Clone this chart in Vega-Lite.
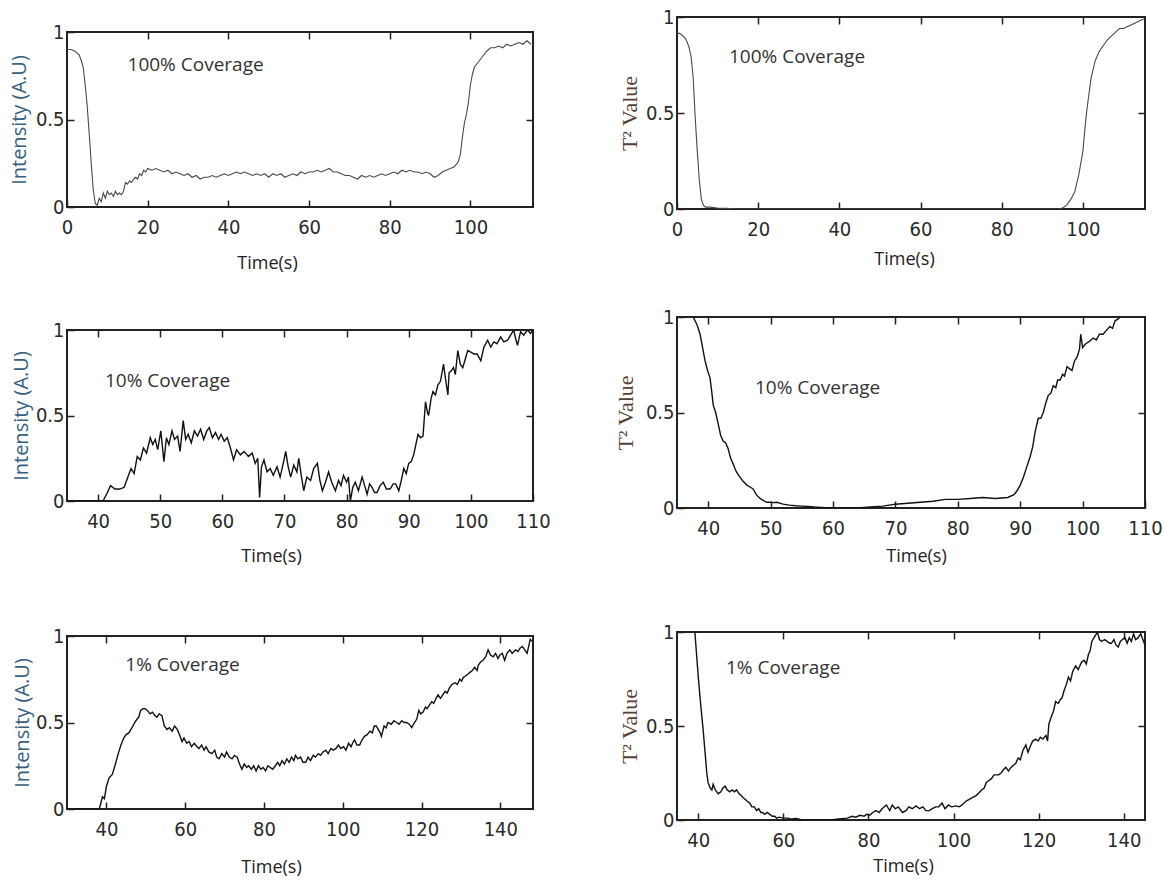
{
"$schema": "https://vega.github.io/schema/vega-lite/v6.json",
"padding": {"left": 8, "top": 6, "right": 0, "bottom": 5},
"background": "white",
"config": {
  "view": {"stroke": "#222", "strokeWidth": 2},
  "axis": {"domain": false, "grid": false, "ticks": true, "tickSize": -7, "tickColor": "#222", "tickWidth": 1.5, "labelFlush": false,
    "labelFont": "Liberation Sans Narrow, DejaVu Sans Condensed, sans-serif", "labelFontSize": 20, "labelColor": "#2a2a2a",
    "titleFont": "Open Sans", "titleFontSize": 18, "titleFontWeight": "normal", "titleColor": "#222", "titleBaseline": "middle"},
  "axisX": {"labelPadding": 17},
  "axisY": {"labelPadding": 10}
},
"datasets": {
 "p1": [{"t":0,"v":0.9},{"t":1,"v":0.9},{"t":2,"v":0.89},{"t":3,"v":0.87},{"t":3.5,"v":0.84},{"t":4,"v":0.8},{"t":4.5,"v":0.7},{"t":5,"v":0.58},{"t":5.5,"v":0.42},{"t":6,"v":0.25},{"t":6.5,"v":0.1},{"t":7,"v":0.02},{"t":7.5,"v":0.01},{"t":8,"v":0.05},{"t":8.5,"v":0.03},{"t":9,"v":0.08},{"t":9.5,"v":0.05},{"t":10,"v":0.09},{"t":10.5,"v":0.07},{"t":11,"v":0.08},{"t":11.5,"v":0.06},{"t":12,"v":0.09},{"t":12.5,"v":0.07},{"t":13,"v":0.08},{"t":13.5,"v":0.07},{"t":14,"v":0.09},{"t":14.5,"v":0.14},{"t":15,"v":0.13},{"t":15.5,"v":0.15},{"t":16,"v":0.14},{"t":16.5,"v":0.16},{"t":17,"v":0.17},{"t":17.5,"v":0.16},{"t":18,"v":0.19},{"t":18.5,"v":0.18},{"t":19,"v":0.21},{"t":19.5,"v":0.2},{"t":20,"v":0.22},{"t":21,"v":0.21},{"t":22,"v":0.22},{"t":23,"v":0.21},{"t":24,"v":0.2},{"t":25,"v":0.21},{"t":26,"v":0.19},{"t":27,"v":0.2},{"t":28,"v":0.19},{"t":29,"v":0.18},{"t":30,"v":0.19},{"t":31,"v":0.17},{"t":32,"v":0.18},{"t":33,"v":0.16},{"t":34,"v":0.17},{"t":35,"v":0.17},{"t":36,"v":0.18},{"t":37,"v":0.17},{"t":38,"v":0.18},{"t":39,"v":0.19},{"t":40,"v":0.18},{"t":41,"v":0.19},{"t":42,"v":0.2},{"t":43,"v":0.19},{"t":44,"v":0.2},{"t":45,"v":0.19},{"t":46,"v":0.18},{"t":47,"v":0.19},{"t":48,"v":0.18},{"t":49,"v":0.19},{"t":50,"v":0.17},{"t":51,"v":0.19},{"t":52,"v":0.18},{"t":53,"v":0.19},{"t":54,"v":0.17},{"t":55,"v":0.18},{"t":56,"v":0.19},{"t":57,"v":0.18},{"t":58,"v":0.2},{"t":59,"v":0.19},{"t":60,"v":0.2},{"t":61,"v":0.2},{"t":62,"v":0.21},{"t":63,"v":0.2},{"t":64,"v":0.21},{"t":65,"v":0.22},{"t":66,"v":0.2},{"t":67,"v":0.2},{"t":68,"v":0.19},{"t":69,"v":0.18},{"t":70,"v":0.18},{"t":71,"v":0.17},{"t":72,"v":0.16},{"t":73,"v":0.18},{"t":74,"v":0.17},{"t":75,"v":0.18},{"t":76,"v":0.17},{"t":77,"v":0.18},{"t":78,"v":0.19},{"t":79,"v":0.18},{"t":80,"v":0.19},{"t":81,"v":0.2},{"t":82,"v":0.19},{"t":83,"v":0.21},{"t":84,"v":0.2},{"t":85,"v":0.21},{"t":86,"v":0.2},{"t":87,"v":0.2},{"t":88,"v":0.19},{"t":89,"v":0.2},{"t":90,"v":0.19},{"t":91,"v":0.17},{"t":92,"v":0.18},{"t":93,"v":0.2},{"t":94,"v":0.21},{"t":95,"v":0.22},{"t":96,"v":0.23},{"t":97,"v":0.26},{"t":97.5,"v":0.3},{"t":98,"v":0.4},{"t":98.5,"v":0.48},{"t":99,"v":0.53},{"t":99.5,"v":0.6},{"t":100,"v":0.7},{"t":100.5,"v":0.76},{"t":101,"v":0.8},{"t":102,"v":0.83},{"t":103,"v":0.86},{"t":104,"v":0.89},{"t":105,"v":0.91},{"t":106,"v":0.91},{"t":107,"v":0.92},{"t":108,"v":0.91},{"t":109,"v":0.93},{"t":110,"v":0.92},{"t":111,"v":0.93},{"t":112,"v":0.94},{"t":113,"v":0.93},{"t":114,"v":0.95},{"t":115,"v":0.93}],
 "p2": [{"t":0,"v":0.92},{"t":1,"v":0.91},{"t":2,"v":0.89},{"t":2.5,"v":0.87},{"t":3,"v":0.84},{"t":3.5,"v":0.79},{"t":4,"v":0.68},{"t":4.5,"v":0.47},{"t":5,"v":0.3},{"t":5.5,"v":0.15},{"t":6,"v":0.05},{"t":6.5,"v":0.02},{"t":7,"v":0.01},{"t":8,"v":0.01},{"t":10,"v":0.005},{"t":12,"v":0.003},{"t":15,"v":0},{"t":20,"v":0},{"t":30,"v":0},{"t":40,"v":0},{"t":50,"v":0},{"t":60,"v":0},{"t":70,"v":0},{"t":80,"v":0},{"t":90,"v":0},{"t":94,"v":0},{"t":95,"v":0.005},{"t":96,"v":0.02},{"t":97,"v":0.05},{"t":98,"v":0.09},{"t":99,"v":0.18},{"t":100,"v":0.3},{"t":100.5,"v":0.42},{"t":101,"v":0.52},{"t":101.5,"v":0.6},{"t":102,"v":0.68},{"t":103,"v":0.77},{"t":104,"v":0.82},{"t":105,"v":0.85},{"t":106,"v":0.88},{"t":107,"v":0.9},{"t":108,"v":0.92},{"t":109,"v":0.94},{"t":110,"v":0.94},{"t":111,"v":0.95},{"t":112,"v":0.96},{"t":113,"v":0.97},{"t":114,"v":0.98},{"t":115,"v":0.99}],
 "p3": [{"t":35,"v":0},{"t":40.8,"v":0},{"t":41.5,"v":0.05},{"t":42,"v":0.09},{"t":42.7,"v":0.07},{"t":43.5,"v":0.07},{"t":44.2,"v":0.08},{"t":44.8,"v":0.14},{"t":45.3,"v":0.19},{"t":45.8,"v":0.16},{"t":46.3,"v":0.26},{"t":46.8,"v":0.24},{"t":47.3,"v":0.31},{"t":47.8,"v":0.28},{"t":48.4,"v":0.37},{"t":48.8,"v":0.33},{"t":49.2,"v":0.36},{"t":49.6,"v":0.3},{"t":50.1,"v":0.41},{"t":50.6,"v":0.23},{"t":51,"v":0.37},{"t":51.4,"v":0.33},{"t":51.9,"v":0.41},{"t":52.3,"v":0.36},{"t":52.8,"v":0.38},{"t":53.2,"v":0.29},{"t":53.7,"v":0.47},{"t":54.1,"v":0.36},{"t":54.5,"v":0.39},{"t":55,"v":0.34},{"t":55.5,"v":0.41},{"t":56,"v":0.38},{"t":56.5,"v":0.42},{"t":57,"v":0.36},{"t":57.5,"v":0.41},{"t":57.9,"v":0.43},{"t":58.4,"v":0.37},{"t":58.9,"v":0.4},{"t":59.4,"v":0.36},{"t":59.8,"v":0.39},{"t":60.3,"v":0.35},{"t":60.8,"v":0.37},{"t":61.3,"v":0.31},{"t":61.8,"v":0.24},{"t":62.3,"v":0.3},{"t":62.9,"v":0.27},{"t":63.5,"v":0.29},{"t":64.2,"v":0.26},{"t":64.8,"v":0.28},{"t":65.3,"v":0.22},{"t":65.7,"v":0.25},{"t":66,"v":0.02},{"t":66.3,"v":0.2},{"t":66.7,"v":0.24},{"t":67.2,"v":0.17},{"t":67.7,"v":0.19},{"t":68.2,"v":0.15},{"t":68.8,"v":0.2},{"t":69.3,"v":0.14},{"t":69.8,"v":0.22},{"t":70.2,"v":0.29},{"t":70.6,"v":0.2},{"t":71,"v":0.14},{"t":71.5,"v":0.21},{"t":72,"v":0.17},{"t":72.3,"v":0.25},{"t":72.7,"v":0.15},{"t":73.1,"v":0.06},{"t":73.6,"v":0.14},{"t":74.2,"v":0.12},{"t":74.7,"v":0.19},{"t":75.3,"v":0.22},{"t":75.7,"v":0.12},{"t":76.1,"v":0.06},{"t":76.6,"v":0.11},{"t":77.1,"v":0.17},{"t":77.6,"v":0.11},{"t":78.2,"v":0.06},{"t":78.7,"v":0.12},{"t":79.1,"v":0.09},{"t":79.5,"v":0.15},{"t":80,"v":0.11},{"t":80.3,"v":0.14},{"t":80.6,"v":0},{"t":81,"v":0.08},{"t":81.4,"v":0.11},{"t":81.9,"v":0.06},{"t":82.5,"v":0.14},{"t":82.9,"v":0.09},{"t":83.3,"v":0.04},{"t":83.7,"v":0.1},{"t":84.1,"v":0.08},{"t":84.5,"v":0.05},{"t":84.9,"v":0.05},{"t":85.4,"v":0.09},{"t":85.9,"v":0.11},{"t":86.4,"v":0.07},{"t":87,"v":0.07},{"t":87.5,"v":0.1},{"t":87.9,"v":0.1},{"t":88.4,"v":0.06},{"t":88.8,"v":0.12},{"t":89.2,"v":0.19},{"t":89.6,"v":0.16},{"t":90,"v":0.22},{"t":90.4,"v":0.23},{"t":90.8,"v":0.27},{"t":91.2,"v":0.34},{"t":91.5,"v":0.39},{"t":91.9,"v":0.37},{"t":92.3,"v":0.38},{"t":92.7,"v":0.58},{"t":93,"v":0.52},{"t":93.2,"v":0.5},{"t":93.6,"v":0.6},{"t":93.9,"v":0.64},{"t":94.3,"v":0.62},{"t":94.7,"v":0.68},{"t":95.1,"v":0.7},{"t":95.4,"v":0.76},{"t":95.6,"v":0.8},{"t":95.9,"v":0.72},{"t":96.3,"v":0.62},{"t":96.5,"v":0.75},{"t":96.8,"v":0.76},{"t":97.2,"v":0.78},{"t":97.5,"v":0.74},{"t":97.9,"v":0.88},{"t":98.3,"v":0.8},{"t":98.7,"v":0.78},{"t":99.1,"v":0.83},{"t":99.5,"v":0.88},{"t":100,"v":0.87},{"t":100.5,"v":0.86},{"t":101,"v":0.86},{"t":101.6,"v":0.82},{"t":102.1,"v":0.9},{"t":102.7,"v":0.94},{"t":103.2,"v":0.9},{"t":103.7,"v":0.93},{"t":104.2,"v":0.92},{"t":104.8,"v":0.96},{"t":105.3,"v":0.93},{"t":105.9,"v":0.94},{"t":106.4,"v":0.97},{"t":106.9,"v":1},{"t":107.2,"v":0.95},{"t":107.5,"v":0.91},{"t":108,"v":0.99},{"t":108.5,"v":0.97},{"t":109.1,"v":1},{"t":109.6,"v":0.98},{"t":110,"v":1}],
 "p4": [{"t":37.6,"v":1},{"t":38.2,"v":0.96},{"t":38.7,"v":0.91},{"t":39.1,"v":0.84},{"t":39.5,"v":0.77},{"t":39.9,"v":0.72},{"t":40.3,"v":0.68},{"t":40.6,"v":0.6},{"t":40.8,"v":0.54},{"t":41.2,"v":0.5},{"t":41.6,"v":0.44},{"t":42,"v":0.38},{"t":42.4,"v":0.35},{"t":42.8,"v":0.34},{"t":43.2,"v":0.31},{"t":43.6,"v":0.26},{"t":44,"v":0.23},{"t":44.5,"v":0.19},{"t":45.1,"v":0.16},{"t":45.6,"v":0.14},{"t":46.2,"v":0.12},{"t":46.7,"v":0.11},{"t":47.2,"v":0.1},{"t":47.7,"v":0.07},{"t":48.3,"v":0.05},{"t":48.8,"v":0.04},{"t":49.4,"v":0.03},{"t":50,"v":0.03},{"t":50.4,"v":0.028},{"t":51,"v":0.03},{"t":52,"v":0.02},{"t":53,"v":0.015},{"t":54,"v":0.012},{"t":55,"v":0.01},{"t":56,"v":0.008},{"t":57,"v":0.005},{"t":58,"v":0.003},{"t":60,"v":0},{"t":62,"v":0},{"t":64,"v":0},{"t":66,"v":0.005},{"t":68,"v":0.01},{"t":70,"v":0.02},{"t":72,"v":0.025},{"t":74,"v":0.03},{"t":76,"v":0.035},{"t":78,"v":0.045},{"t":80,"v":0.045},{"t":82,"v":0.05},{"t":84,"v":0.055},{"t":86,"v":0.05},{"t":88,"v":0.055},{"t":89,"v":0.07},{"t":89.5,"v":0.09},{"t":90,"v":0.12},{"t":90.5,"v":0.16},{"t":91,"v":0.21},{"t":91.6,"v":0.27},{"t":92,"v":0.32},{"t":92.4,"v":0.4},{"t":92.9,"v":0.47},{"t":93.3,"v":0.47},{"t":93.7,"v":0.5},{"t":94.1,"v":0.55},{"t":94.5,"v":0.59},{"t":94.9,"v":0.6},{"t":95.3,"v":0.64},{"t":95.7,"v":0.63},{"t":96,"v":0.67},{"t":96.4,"v":0.67},{"t":96.8,"v":0.7},{"t":97.1,"v":0.69},{"t":97.5,"v":0.74},{"t":97.9,"v":0.73},{"t":98.3,"v":0.72},{"t":98.7,"v":0.77},{"t":99.1,"v":0.79},{"t":99.5,"v":0.83},{"t":99.7,"v":0.91},{"t":100,"v":0.84},{"t":100.5,"v":0.86},{"t":101,"v":0.87},{"t":101.7,"v":0.89},{"t":102.2,"v":0.88},{"t":102.7,"v":0.91},{"t":103.3,"v":0.91},{"t":103.8,"v":0.93},{"t":104.4,"v":0.95},{"t":104.8,"v":0.94},{"t":105.2,"v":0.98},{"t":105.7,"v":0.99},{"t":106,"v":1}],
 "p5": [{"t":30,"v":0},{"t":38.2,"v":0},{"t":39,"v":0.07},{"t":39.5,"v":0.06},{"t":40,"v":0.13},{"t":40.7,"v":0.18},{"t":41.5,"v":0.2},{"t":42.3,"v":0.26},{"t":43,"v":0.32},{"t":43.7,"v":0.37},{"t":44.4,"v":0.41},{"t":45,"v":0.43},{"t":45.7,"v":0.44},{"t":46.5,"v":0.47},{"t":47.2,"v":0.5},{"t":47.8,"v":0.52},{"t":48.2,"v":0.53},{"t":48.7,"v":0.57},{"t":49.3,"v":0.58},{"t":49.8,"v":0.58},{"t":50.4,"v":0.57},{"t":51.1,"v":0.55},{"t":51.7,"v":0.56},{"t":52.3,"v":0.54},{"t":52.8,"v":0.53},{"t":53.4,"v":0.55},{"t":54.1,"v":0.54},{"t":54.7,"v":0.48},{"t":55.4,"v":0.46},{"t":56,"v":0.47},{"t":56.7,"v":0.45},{"t":57.3,"v":0.48},{"t":58,"v":0.46},{"t":58.7,"v":0.42},{"t":59.2,"v":0.39},{"t":59.7,"v":0.41},{"t":60.4,"v":0.38},{"t":61,"v":0.39},{"t":61.6,"v":0.36},{"t":62.3,"v":0.38},{"t":63,"v":0.36},{"t":63.5,"v":0.35},{"t":64.2,"v":0.37},{"t":64.8,"v":0.34},{"t":65.3,"v":0.36},{"t":66,"v":0.33},{"t":66.8,"v":0.32},{"t":67.5,"v":0.34},{"t":68,"v":0.3},{"t":68.6,"v":0.29},{"t":69.3,"v":0.32},{"t":70,"v":0.3},{"t":70.5,"v":0.33},{"t":71.2,"v":0.3},{"t":71.9,"v":0.29},{"t":72.5,"v":0.31},{"t":73.2,"v":0.3},{"t":73.8,"v":0.26},{"t":74.4,"v":0.23},{"t":75,"v":0.26},{"t":75.6,"v":0.24},{"t":76.1,"v":0.25},{"t":76.8,"v":0.23},{"t":77.4,"v":0.25},{"t":78,"v":0.22},{"t":78.6,"v":0.25},{"t":79.2,"v":0.23},{"t":79.8,"v":0.24},{"t":80.4,"v":0.22},{"t":81,"v":0.25},{"t":81.6,"v":0.24},{"t":82.2,"v":0.23},{"t":82.9,"v":0.25},{"t":83.5,"v":0.27},{"t":84,"v":0.25},{"t":84.6,"v":0.28},{"t":85.2,"v":0.26},{"t":85.8,"v":0.29},{"t":86.4,"v":0.27},{"t":87,"v":0.3},{"t":87.6,"v":0.28},{"t":88,"v":0.31},{"t":88.6,"v":0.29},{"t":89.3,"v":0.3},{"t":89.9,"v":0.27},{"t":90.6,"v":0.27},{"t":91.2,"v":0.3},{"t":91.8,"v":0.28},{"t":92.5,"v":0.31},{"t":93.1,"v":0.3},{"t":93.8,"v":0.32},{"t":94.4,"v":0.31},{"t":95,"v":0.33},{"t":95.7,"v":0.34},{"t":96.3,"v":0.32},{"t":97,"v":0.35},{"t":97.6,"v":0.34},{"t":98.3,"v":0.35},{"t":98.9,"v":0.37},{"t":99.5,"v":0.35},{"t":100.2,"v":0.36},{"t":100.8,"v":0.34},{"t":101.5,"v":0.38},{"t":102.1,"v":0.36},{"t":102.7,"v":0.39},{"t":103,"v":0.4},{"t":103.6,"v":0.37},{"t":104.3,"v":0.37},{"t":104.9,"v":0.4},{"t":105.5,"v":0.42},{"t":106.2,"v":0.43},{"t":106.9,"v":0.45},{"t":107.5,"v":0.44},{"t":108,"v":0.48},{"t":108.5,"v":0.48},{"t":109,"v":0.46},{"t":109.5,"v":0.44},{"t":109.8,"v":0.42},{"t":110.5,"v":0.48},{"t":111,"v":0.47},{"t":111.5,"v":0.5},{"t":112.3,"v":0.49},{"t":113,"v":0.51},{"t":113.7,"v":0.5},{"t":114.3,"v":0.49},{"t":115,"v":0.51},{"t":115.6,"v":0.5},{"t":116.2,"v":0.5},{"t":116.9,"v":0.49},{"t":117.5,"v":0.47},{"t":118.2,"v":0.5},{"t":118.8,"v":0.52},{"t":119.3,"v":0.57},{"t":119.8,"v":0.55},{"t":120.4,"v":0.56},{"t":121,"v":0.59},{"t":121.4,"v":0.58},{"t":122,"v":0.6},{"t":122.6,"v":0.62},{"t":123.1,"v":0.61},{"t":123.7,"v":0.64},{"t":124.2,"v":0.66},{"t":124.8,"v":0.64},{"t":125.4,"v":0.66},{"t":126,"v":0.68},{"t":126.5,"v":0.67},{"t":127.1,"v":0.7},{"t":127.7,"v":0.72},{"t":128.5,"v":0.73},{"t":129.1,"v":0.72},{"t":129.7,"v":0.75},{"t":130.2,"v":0.74},{"t":130.6,"v":0.76},{"t":131.2,"v":0.77},{"t":131.8,"v":0.78},{"t":132.3,"v":0.79},{"t":132.9,"v":0.8},{"t":133.5,"v":0.82},{"t":134.1,"v":0.8},{"t":134.4,"v":0.83},{"t":135,"v":0.85},{"t":135.6,"v":0.86},{"t":136.3,"v":0.88},{"t":136.9,"v":0.92},{"t":137.5,"v":0.89},{"t":138.2,"v":0.88},{"t":138.8,"v":0.9},{"t":139.4,"v":0.87},{"t":139.9,"v":0.89},{"t":140.5,"v":0.9},{"t":141.1,"v":0.86},{"t":141.7,"v":0.9},{"t":142.4,"v":0.92},{"t":143,"v":0.9},{"t":143.9,"v":0.92},{"t":144.5,"v":0.91},{"t":145,"v":0.93},{"t":145.6,"v":0.94},{"t":146.2,"v":0.92},{"t":146.8,"v":0.9},{"t":147.3,"v":0.95},{"t":147.6,"v":0.98},{"t":148,"v":0.97}],
 "p6": [{"t":39.2,"v":1},{"t":39.6,"v":0.88},{"t":40,"v":0.76},{"t":40.5,"v":0.63},{"t":41.1,"v":0.49},{"t":41.6,"v":0.36},{"t":42,"v":0.25},{"t":42.3,"v":0.2},{"t":42.8,"v":0.17},{"t":43.2,"v":0.16},{"t":43.5,"v":0.19},{"t":44,"v":0.16},{"t":44.7,"v":0.14},{"t":45.3,"v":0.15},{"t":45.8,"v":0.17},{"t":46.3,"v":0.18},{"t":46.8,"v":0.16},{"t":47.4,"v":0.15},{"t":48,"v":0.16},{"t":48.5,"v":0.15},{"t":49,"v":0.16},{"t":49.6,"v":0.14},{"t":50.1,"v":0.13},{"t":50.5,"v":0.12},{"t":51,"v":0.11},{"t":51.5,"v":0.1},{"t":52.1,"v":0.09},{"t":52.6,"v":0.07},{"t":53.2,"v":0.07},{"t":53.7,"v":0.05},{"t":54.2,"v":0.06},{"t":54.7,"v":0.04},{"t":55.1,"v":0.04},{"t":55.6,"v":0.03},{"t":56.2,"v":0.04},{"t":56.8,"v":0.03},{"t":57.4,"v":0.02},{"t":58,"v":0.02},{"t":58.4,"v":0.01},{"t":59,"v":0.015},{"t":60,"v":0.01},{"t":61,"v":0.01},{"t":62,"v":0.005},{"t":63,"v":0.008},{"t":64,"v":0.003},{"t":65,"v":0},{"t":67,"v":0},{"t":69,"v":0},{"t":71,"v":0},{"t":73,"v":0.005},{"t":75,"v":0.01},{"t":76.2,"v":0.02},{"t":77,"v":0.015},{"t":78,"v":0.025},{"t":79,"v":0.02},{"t":79.5,"v":0.03},{"t":80.3,"v":0.025},{"t":81,"v":0.04},{"t":81.8,"v":0.05},{"t":82.5,"v":0.04},{"t":83.2,"v":0.06},{"t":84.2,"v":0.08},{"t":85,"v":0.05},{"t":85.6,"v":0.08},{"t":86.3,"v":0.06},{"t":87,"v":0.07},{"t":88,"v":0.04},{"t":88.8,"v":0.05},{"t":89.5,"v":0.07},{"t":90.3,"v":0.06},{"t":91.2,"v":0.075},{"t":92,"v":0.06},{"t":92.8,"v":0.07},{"t":93.5,"v":0.05},{"t":94.3,"v":0.05},{"t":95,"v":0.06},{"t":95.8,"v":0.07},{"t":96.5,"v":0.07},{"t":97.3,"v":0.09},{"t":98,"v":0.06},{"t":98.8,"v":0.08},{"t":99.5,"v":0.07},{"t":100.6,"v":0.075},{"t":101.3,"v":0.07},{"t":102,"v":0.08},{"t":102.9,"v":0.1},{"t":103.7,"v":0.11},{"t":104.5,"v":0.12},{"t":105.3,"v":0.13},{"t":106,"v":0.145},{"t":106.6,"v":0.16},{"t":107.2,"v":0.17},{"t":107.7,"v":0.2},{"t":108.3,"v":0.21},{"t":108.9,"v":0.22},{"t":109.5,"v":0.24},{"t":110,"v":0.24},{"t":110.6,"v":0.24},{"t":111.2,"v":0.25},{"t":111.8,"v":0.27},{"t":112.3,"v":0.28},{"t":112.9,"v":0.26},{"t":113.5,"v":0.28},{"t":114,"v":0.29},{"t":114.6,"v":0.3},{"t":115.2,"v":0.33},{"t":115.7,"v":0.32},{"t":116.3,"v":0.37},{"t":117,"v":0.4},{"t":117.5,"v":0.36},{"t":118,"v":0.39},{"t":118.6,"v":0.42},{"t":119.3,"v":0.43},{"t":119.9,"v":0.42},{"t":120.4,"v":0.44},{"t":121,"v":0.43},{"t":121.7,"v":0.45},{"t":122.1,"v":0.42},{"t":122.4,"v":0.51},{"t":123,"v":0.55},{"t":123.5,"v":0.58},{"t":124,"v":0.63},{"t":124.6,"v":0.62},{"t":125.1,"v":0.64},{"t":125.5,"v":0.65},{"t":126,"v":0.69},{"t":126.5,"v":0.72},{"t":127,"v":0.76},{"t":127.5,"v":0.74},{"t":128,"v":0.79},{"t":128.7,"v":0.82},{"t":129.3,"v":0.8},{"t":130.1,"v":0.84},{"t":130.7,"v":0.85},{"t":131.2,"v":0.83},{"t":131.7,"v":0.88},{"t":132.1,"v":0.9},{"t":132.5,"v":0.95},{"t":133,"v":0.97},{"t":133.3,"v":0.98},{"t":133.8,"v":1},{"t":134.3,"v":0.96},{"t":134.8,"v":0.95},{"t":135.5,"v":0.96},{"t":136.1,"v":0.95},{"t":136.7,"v":0.94},{"t":137.1,"v":0.94},{"t":137.7,"v":0.96},{"t":138.2,"v":0.93},{"t":138.7,"v":0.92},{"t":139.2,"v":0.95},{"t":139.7,"v":0.96},{"t":140.3,"v":0.97},{"t":140.8,"v":0.94},{"t":141.3,"v":0.97},{"t":141.8,"v":0.95},{"t":142.3,"v":0.99},{"t":142.8,"v":0.96},{"t":143.4,"v":0.97},{"t":144,"v":0.99},{"t":144.5,"v":0.96},{"t":145,"v":0.93}]
},
"hconcat": [
 {"vconcat": [
   {"width": 466, "height": 15, "data": {"values": [{}]}, "mark": {"type": "text"}, "encoding": {"text": {"value": ""}}, "view": {"stroke": null}},
   {"width": 466, "height": 175,
    "layer": [
     {"data": {"name": "p1"}, "mark": {"type": "line", "color": "#4a4a4a", "strokeWidth": 1.1, "clip": true},
      "encoding": {
       "x": {"field": "t", "type": "quantitative", "scale": {"domain": [0, 115.5], "nice": false, "zero": false}, "axis": {"orient": "bottom", "values": [0,20,40,60,80,100], "title": "Time(s)", "titleX": 200, "titleY": 56}},
       "y": {"field": "v", "type": "quantitative", "scale": {"domain": [0, 1], "nice": false}, "axis": {"orient": "left", "values": [0,0.5,1], "format": "~g", "title": "Intensity (A.U)", "titleX": -48, "titleFontSize": 20, "titleColor": "#36607f"}}
      }},
     {"data": {"values": [{"label": "100% Coverage"}]}, "mark": {"type": "text", "align": "left", "baseline": "middle", "font": "Open Sans", "fontSize": 19, "color": "#333"},
      "encoding": {
       "x": {"datum": 15, "type": "quantitative", "axis": {"orient": "top", "values": [20,40,60,80,100], "labels": false, "title": null}},
       "y": {"datum": 0.81, "type": "quantitative", "axis": {"orient": "right", "values": [0.5], "labels": false, "title": null}},
       "text": {"field": "label"}
      }}
    ],
    "resolve": {"axis": {"x": "independent", "y": "independent"}}},
   {"width": 466, "height": 123, "data": {"values": [{}]}, "mark": {"type": "text"}, "encoding": {"text": {"value": ""}}, "view": {"stroke": null}},
   {"width": 466, "height": 171,
    "layer": [
     {"data": {"name": "p3"}, "mark": {"type": "line", "color": "#111", "strokeWidth": 1.4, "clip": true},
      "encoding": {
       "x": {"field": "t", "type": "quantitative", "scale": {"domain": [35, 110], "nice": false, "zero": false}, "axis": {"orient": "bottom", "values": [40,50,60,70,80,90,100,110], "title": "Time(s)", "titleX": 204, "titleY": 55}},
       "y": {"field": "v", "type": "quantitative", "scale": {"domain": [0, 1], "nice": false}, "axis": {"orient": "left", "values": [0,0.5,1], "format": "~g", "title": "Intensity (A.U)", "titleX": -46, "titleFontSize": 20, "titleColor": "#36607f"}}
      }},
     {"data": {"values": [{"label": "10% Coverage"}]}, "mark": {"type": "text", "align": "left", "baseline": "middle", "font": "Open Sans", "fontSize": 19, "color": "#333"},
      "encoding": {
       "x": {"datum": 41.1, "type": "quantitative", "axis": {"orient": "top", "values": [40,50,60,70,80,90,100], "labels": false, "title": null}},
       "y": {"datum": 0.7, "type": "quantitative", "axis": {"orient": "right", "values": [0.5], "labels": false, "title": null}},
       "text": {"field": "label"}
      }}
    ],
    "resolve": {"axis": {"x": "independent", "y": "independent"}}},
   {"width": 466, "height": 135, "data": {"values": [{}]}, "mark": {"type": "text"}, "encoding": {"text": {"value": ""}}, "view": {"stroke": null}},
   {"width": 466, "height": 173,
    "layer": [
     {"data": {"name": "p5"}, "mark": {"type": "line", "color": "#111", "strokeWidth": 1.4, "clip": true},
      "encoding": {
       "x": {"field": "t", "type": "quantitative", "scale": {"domain": [30, 148.3], "nice": false, "zero": false}, "axis": {"orient": "bottom", "values": [40,60,80,100,120,140], "title": "Time(s)", "titleX": 204, "titleY": 58}},
       "y": {"field": "v", "type": "quantitative", "scale": {"domain": [0, 1], "nice": false}, "axis": {"orient": "left", "values": [0,0.5,1], "format": "~g", "title": "Intensity (A.U)", "titleX": -45, "titleFontSize": 20, "titleColor": "#36607f"}}
      }},
     {"data": {"values": [{"label": "1% Coverage"}]}, "mark": {"type": "text", "align": "left", "baseline": "middle", "font": "Open Sans", "fontSize": 19, "color": "#333"},
      "encoding": {
       "x": {"datum": 44.8, "type": "quantitative", "axis": {"orient": "top", "values": [40,60,80,100,120,140], "labels": false, "title": null}},
       "y": {"datum": 0.83, "type": "quantitative", "axis": {"orient": "right", "values": [0.5], "labels": false, "title": null}},
       "text": {"field": "label"}
      }}
    ],
    "resolve": {"axis": {"x": "independent", "y": "independent"}}}
  ], "spacing": 0, "bounds": "flush"},
 {"vconcat": [
   {"width": 468, "height": 192,
    "layer": [
     {"data": {"name": "p2"}, "mark": {"type": "line", "color": "#4a4a4a", "strokeWidth": 1.1, "clip": true},
      "encoding": {
       "x": {"field": "t", "type": "quantitative", "scale": {"domain": [0, 115.3], "nice": false, "zero": false}, "axis": {"orient": "bottom", "values": [0,20,40,60,80,100], "title": "Time(s)", "titleX": 227, "titleY": 50}},
       "y": {"field": "v", "type": "quantitative", "scale": {"domain": [0, 1], "nice": false}, "axis": {"orient": "left", "values": [0,0.5,1], "format": "~g", "title": "T² Value", "titleX": -48, "titleFont": "Liberation Serif", "titleFontSize": 22, "titleColor": "#553f33"}}
      }},
     {"data": {"values": [{"label": "100% Coverage"}]}, "mark": {"type": "text", "align": "left", "baseline": "middle", "font": "Open Sans", "fontSize": 19, "color": "#333"},
      "encoding": {
       "x": {"datum": 12.8, "type": "quantitative", "axis": {"orient": "top", "values": [20,40,60,80,100], "labels": false, "title": null}},
       "y": {"datum": 0.79, "type": "quantitative", "axis": {"orient": "right", "values": [0.5], "labels": false, "title": null}},
       "text": {"field": "label"}
      }}
    ],
    "resolve": {"axis": {"x": "independent", "y": "independent"}}},
   {"width": 468, "height": 108, "data": {"values": [{}]}, "mark": {"type": "text"}, "encoding": {"text": {"value": ""}}, "view": {"stroke": null}},
   {"width": 468, "height": 191,
    "layer": [
     {"data": {"name": "p4"}, "mark": {"type": "line", "color": "#111", "strokeWidth": 1.4, "clip": true},
      "encoding": {
       "x": {"field": "t", "type": "quantitative", "scale": {"domain": [35, 110], "nice": false, "zero": false}, "axis": {"orient": "bottom", "values": [40,50,60,70,80,90,100,110], "title": "Time(s)", "titleX": 239, "titleY": 48}},
       "y": {"field": "v", "type": "quantitative", "scale": {"domain": [0, 1], "nice": false}, "axis": {"orient": "left", "values": [0,0.5,1], "format": "~g", "title": "T² Value", "titleX": -52, "titleFont": "Liberation Serif", "titleFontSize": 22, "titleColor": "#553f33"}}
      }},
     {"data": {"values": [{"label": "10% Coverage"}]}, "mark": {"type": "text", "align": "left", "baseline": "middle", "font": "Open Sans", "fontSize": 19, "color": "#333"},
      "encoding": {
       "x": {"datum": 47.5, "type": "quantitative", "axis": {"orient": "top", "values": [40,50,60,70,80,90,100], "labels": false, "title": null}},
       "y": {"datum": 0.63, "type": "quantitative", "axis": {"orient": "right", "values": [0.5], "labels": false, "title": null}},
       "text": {"field": "label"}
      }}
    ],
    "resolve": {"axis": {"x": "independent", "y": "independent"}}},
   {"width": 468, "height": 124, "data": {"values": [{}]}, "mark": {"type": "text"}, "encoding": {"text": {"value": ""}}, "view": {"stroke": null}},
   {"width": 468, "height": 188,
    "layer": [
     {"data": {"name": "p6"}, "mark": {"type": "line", "color": "#111", "strokeWidth": 1.4, "clip": true},
      "encoding": {
       "x": {"field": "t", "type": "quantitative", "scale": {"domain": [35, 145], "nice": false, "zero": false}, "axis": {"orient": "bottom", "values": [40,60,80,100,120,140], "title": "Time(s)", "titleX": 226, "titleY": 46}},
       "y": {"field": "v", "type": "quantitative", "scale": {"domain": [0, 1], "nice": false}, "axis": {"orient": "left", "values": [0,0.5,1], "format": "~g", "title": "T² Value", "titleX": -48, "titleFont": "Liberation Serif", "titleFontSize": 22, "titleColor": "#553f33"}}
      }},
     {"data": {"values": [{"label": "1% Coverage"}]}, "mark": {"type": "text", "align": "left", "baseline": "middle", "font": "Open Sans", "fontSize": 19, "color": "#333"},
      "encoding": {
       "x": {"datum": 46.5, "type": "quantitative", "axis": {"orient": "top", "values": [60,80,100,120,140], "labels": false, "title": null}},
       "y": {"datum": 0.81, "type": "quantitative", "axis": {"orient": "right", "values": [0.5], "labels": false, "title": null}},
       "text": {"field": "label"}
      }}
    ],
    "resolve": {"axis": {"x": "independent", "y": "independent"}}}
  ], "spacing": 0, "bounds": "flush"}
],
"spacing": 61
}
